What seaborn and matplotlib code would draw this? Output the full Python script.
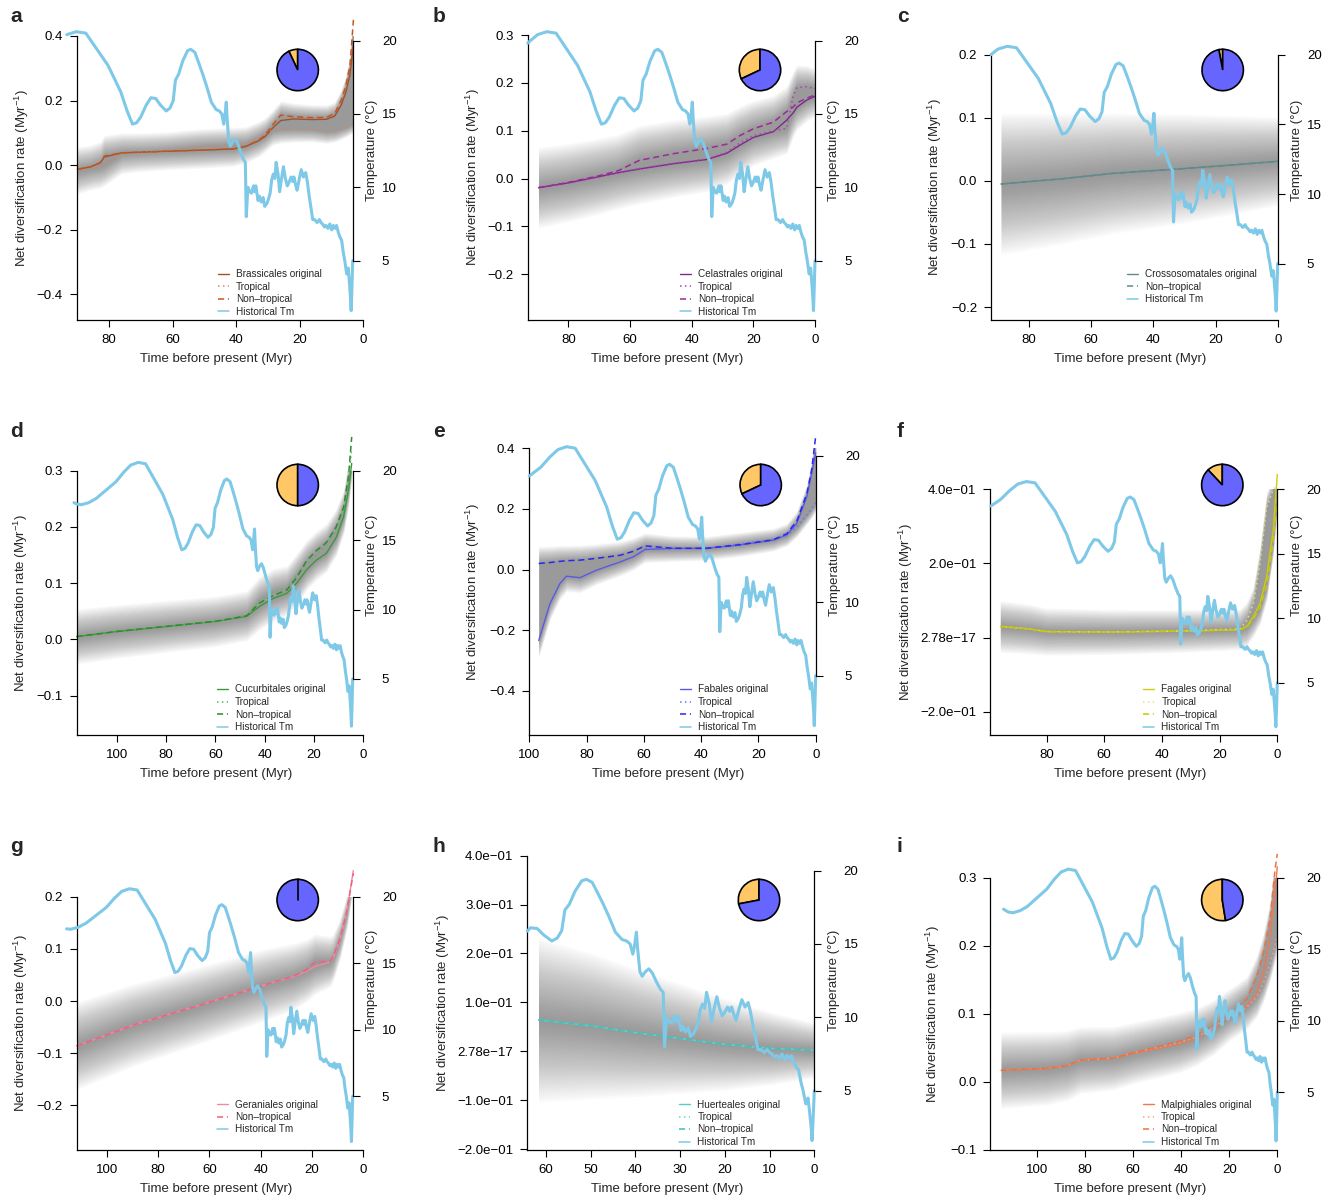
import numpy as np
import matplotlib
matplotlib.use("Agg")
import matplotlib.pyplot as plt
from matplotlib.lines import Line2D
import seaborn as sns

sns.set_theme(style="ticks")
plt.rcParams["font.family"] = ["Liberation Sans", "DejaVu Sans"]
plt.rcParams["mathtext.fontset"] = "custom"
plt.rcParams["mathtext.rm"] = "Liberation Sans"
plt.rcParams["mathtext.it"] = "Liberation Sans:italic"

W, H = 1336, 1196

# Historical temperature curve (Myr before present, deg C)
temp_time = [114, 112, 110, 107, 104, 100, 96, 92.8, 90, 87,
             84, 80.5, 77, 75, 73, 71, 69.3, 68, 66.7, 65,
             63.5, 62, 60.5, 58.7, 57.5, 56.5, 55.8, 54.8, 53.5, 52,
             51, 49.7, 48.5, 47.2, 46, 44.5, 43, 42, 41.2, 40.6,
             40.2, 39.8, 39.5, 39.0, 38.5, 37.8, 37.0, 36.2, 35.3, 34.4,
             33.8, 33.5, 33.0, 32.4, 31.9, 31.2, 30.9, 30.5, 29.8, 29.4,
             28.8, 28.2, 27.7, 27.0, 26.5, 26.0, 25.5, 25.0, 24.5, 24.1,
             23.5, 23.0, 22.4, 21.8, 21.2, 20.6, 20.1, 19.4, 18.9, 18.5,
             17.9, 17.5, 16.8, 16.2, 15.5, 14.8, 14.3, 13.7, 13.2, 12.6,
             12.0, 11.2, 10.5, 10.0, 9.5, 8.9, 8.4, 7.8, 7.2, 6.6,
             6.1, 5.5, 5.1, 4.5, 4.0, 3.5, 3.0, 2.5, 1.9, 1.4,
             1.0, 0.7, 0.5, 0.3, 0.0]
temp_value = [17.8, 17.6, 17.55, 17.7, 18.0, 18.6, 19.2, 19.9, 20.4, 20.6,
              20.5, 19.4, 18.3, 17.4, 16.5, 15.2, 14.3, 14.4, 14.8, 15.6,
              16.1, 16.05, 15.6, 15.2, 15.4, 15.9, 17.3, 17.7, 18.6, 19.3,
              19.4, 19.2, 18.5, 17.7, 16.9, 15.8, 15.3, 15.2, 15.0, 14.3,
              14.9, 15.8, 14.6, 13.1, 12.8, 13.1, 13.3, 13.0, 12.4, 11.9,
              11.7, 8.0, 10.0, 9.7, 9.6, 10.1, 9.7, 10.1, 9.1, 9.4,
              9.0, 9.3, 8.7, 8.9, 9.2, 9.6, 10.5, 10.9, 10.6, 11.7,
              10.9, 9.7, 10.6, 11.4, 10.6, 10.1, 10.3, 10.7, 10.4, 10.7,
              10.1, 9.8, 10.6, 11.2, 10.7, 11.0, 10.4, 9.4, 8.7, 7.8,
              7.8, 7.6, 7.8, 7.6, 7.5, 7.3, 7.4, 7.2, 7.5, 7.1,
              7.4, 7.2, 7.4, 6.9, 6.6, 6.4, 5.6, 5.0, 4.1, 4.5,
              3.4, 2.5, 1.6, 2.8, 5.0]

# share of tropical lineages per order (orange wedge of the pie)
tropical_share = [0.07, 0.32, 0.03, 0.5, 0.32, 0.12, 0.0, 0.28, 0.525]

nan = float("nan")

# a - Brassicales
brassicales_time = [90, 86, 82.8, 81.5, 76, 70, 62, 52, 41, 37, 33, 31, 28.5, 26, 22, 16, 11.5, 9, 7, 5.5, 4.2, 3.1]
brassicales_orig = [-0.013, -0.006, 0.007, 0.025, 0.038, 0.04, 0.043, 0.046, 0.05, 0.058, 0.075, 0.088,
                    0.115, 0.138, 0.143, 0.141, 0.142, 0.152, 0.185, 0.225, 0.28, 0.37]
brassicales_trop = [-0.02, -0.01, -0.005, 0.0, 0.035, 0.04, 0.045, 0.056, 0.063, 0.067, 0.085, 0.098,
                    0.108, 0.112, 0.113, 0.112, 0.105, 0.107, 0.113, 0.118, 0.124, 0.128]
brassicales_nontrop = [-0.013, -0.006, 0.007, 0.028, 0.038, 0.04, 0.043, 0.046, 0.05, 0.058, 0.077, 0.092,
                       0.125, 0.155, 0.15, 0.147, 0.148, 0.16, 0.2, 0.245, 0.31, 0.45]

# b - Celastrales
celastrales_time = [89.7, 80, 70, 64, 57, 46, 35, 28.6, 24.3, 20, 13.5, 9.2, 7, 5.9, 2.7, 0]
celastrales_orig = [-0.019, -0.009, 0.004, 0.012, 0.02, 0.031, 0.04, 0.053, 0.07, 0.086, 0.098, 0.122,
                    0.138, 0.149, 0.164, 0.172]
celastrales_trop = [-0.019, -0.009, 0.004, 0.013, 0.021, 0.032, 0.041, 0.055, 0.075, 0.09, 0.1, 0.105,
                    0.175, 0.19, 0.192, 0.188]
celastrales_nontrop = [-0.019, -0.008, 0.006, 0.016, 0.038, 0.052, 0.063, 0.072, 0.09, 0.104, 0.118, 0.14,
                       0.15, 0.158, 0.168, 0.175]

# c - Crossosomatales
crossosomatales_time = [89, 70, 52.8, 31.4, 15, 0]
crossosomatales_orig = [-0.005, 0.003, 0.012, 0.019, 0.025, 0.031]
crossosomatales_nontrop = [-0.005, 0.003, 0.012, 0.019, 0.025, 0.031]

# d - Cucurbitales
cucurbitales_time = [116.2, 100, 80, 60, 47.3, 42, 36.5, 31, 27, 23, 19, 15, 11, 8, 6, 4.7]
cucurbitales_orig = [0.005, 0.014, 0.023, 0.032, 0.041, 0.059, 0.073, 0.082, 0.1, 0.124, 0.141, 0.153,
                     0.181, 0.218, 0.266, 0.313]
cucurbitales_trop = [0.005, 0.014, 0.023, 0.032, 0.043, 0.07, 0.085, 0.092, 0.115, 0.135, 0.15, 0.168,
                     0.195, 0.23, 0.28, 0.34]
cucurbitales_nontrop = [0.005, 0.014, 0.023, 0.032, 0.042, 0.065, 0.078, 0.088, 0.11, 0.14, 0.158, 0.172,
                        0.2, 0.235, 0.29, 0.36]

# e - Fabales
fabales_time = [96.7, 92.8, 89.3, 87, 82.3, 76.5, 68.3, 63.7, 59.6, 49.7, 38.1, 26.4, 14.8, 10.1, 6.6, 3.1, 1.4, 0]
fabales_orig = [-0.234, -0.113, -0.046, -0.022, -0.027, -0.002, 0.025, 0.042, 0.066, 0.07, 0.07, 0.081,
                0.097, 0.114, 0.152, 0.24, 0.318, 0.385]
fabales_trop = [nan, nan, nan, nan, nan, nan, nan, nan, 0.07, 0.068, 0.07, 0.085,
                0.1, 0.112, 0.14, 0.18, 0.2, 0.22]
fabales_nontrop = [0.02, 0.023, 0.027, 0.029, 0.031, 0.037, 0.047, 0.06, 0.078, 0.07, 0.07, 0.082,
                   0.098, 0.118, 0.16, 0.25, 0.33, 0.44]

# f - Fagales
fagales_time = [96, 85.8, 80, 57, 34, 13, 10.6, 8.3, 6, 3.7, 1.4, 0]
fagales_orig = [0.03, 0.023, 0.016, 0.015, 0.017, 0.021, 0.03, 0.056, 0.092, 0.164, 0.29, 0.44]
fagales_trop = [0.03, 0.023, 0.016, 0.015, 0.018, 0.023, 0.045, 0.09, 0.2, 0.35, 0.4, 0.41]
fagales_nontrop = [0.03, 0.023, 0.016, 0.015, 0.017, 0.021, 0.028, 0.05, 0.08, 0.14, 0.26, 0.38]

# g - Geraniales
geraniales_time = [111.7, 89.6, 63.6, 37.7, 27.3, 22.1, 18.8, 13, 11.7, 9.1, 6.5, 3.9]
geraniales_orig = [-0.086, -0.046, -0.008, 0.032, 0.046, 0.057, 0.066, 0.075, 0.082, 0.117, 0.168, 0.25]
geraniales_nontrop = [-0.086, -0.046, -0.008, 0.032, 0.047, 0.06, 0.075, 0.076, 0.085, 0.12, 0.17, 0.245]

# h - Huerteales
huerteales_time = [61.7, 50, 40, 30, 20, 10, 0]
huerteales_orig = [0.064, 0.052, 0.038, 0.026, 0.014, 0.006, 0.002]
huerteales_trop = [0.064, 0.052, 0.038, 0.026, 0.014, 0.006, 0.002]
huerteales_nontrop = [0.064, 0.052, 0.038, 0.026, 0.014, 0.006, 0.002]

# i - Malpighiales
malpighiales_time = [115, 95.8, 87.5, 82, 68.1, 59.8, 40.4, 33.5, 26.6, 19.7, 12.7, 8.6, 5.8, 3, 1, 0]
malpighiales_orig = [0.017, 0.02, 0.024, 0.032, 0.035, 0.042, 0.056, 0.064, 0.077, 0.096, 0.111, 0.13,
                     0.16, 0.213, 0.277, 0.316]
malpighiales_trop = [0.017, 0.02, 0.024, 0.032, 0.035, 0.043, 0.058, 0.066, 0.08, 0.097, 0.11, 0.125,
                     0.145, 0.174, 0.2, 0.218]
malpighiales_nontrop = [0.017, 0.02, 0.024, 0.032, 0.035, 0.043, 0.06, 0.069, 0.083, 0.102, 0.122, 0.155,
                        0.19, 0.24, 0.31, 0.335]

ticks_80 = [80, 60, 40, 20, 0]
ticks_100 = [100, 80, 60, 40, 20, 0]
sci_f_ticks = [-0.2, 0.0, 0.2, 0.4]
sci_f_labels = ["\u22122.0e\u221201", "2.78e\u221217", "2.0e\u221201", "4.0e\u221201"]
sci_h_ticks = [-0.2, -0.1, 0.0, 0.1, 0.2, 0.3, 0.4]
sci_h_labels = ["\u22122.0e\u221201", "\u22121.0e\u221201", "2.78e\u221217", "1.0e\u221201",
                "2.0e\u221201", "3.0e\u221201", "4.0e\u221201"]


def dec_labels(vals):
    return [f"{v:.1f}".replace("-", "\u2212") for v in vals]


panels = [
    dict(letter="a", name="Brassicales", t=brassicales_time, orig=brassicales_orig, trop=brassicales_trop,
         nontrop=brassicales_nontrop, c=("#A0522D", "#CD8A68", "#C8551E"),
         box=(76.7, 36, 363.3, 320), ylim=(-0.48, 0.4), xl=90.2, xt=ticks_80,
         yt=[-0.4, -0.2, 0.0, 0.2, 0.4], shift=3.33, tstart=90, band=(0.05, 0.02),
         col=0, row=0, leg_x=218, pie_x=297.7, ylab=55),
    dict(letter="b", name="Celastrales", t=celastrales_time, orig=celastrales_orig, trop=celastrales_trop,
         nontrop=celastrales_nontrop, c=("#7D2A8A", "#B040B8", "#9A2A9A"),
         box=(527.7, 35, 815, 320), ylim=(-0.2955, 0.3), xl=93.2, xt=ticks_80,
         yt=[-0.2, -0.1, 0.0, 0.1, 0.2, 0.3], shift=0, tstart=93.2, band=(0.06, 0.03),
         col=1, row=0, leg_x=680, pie_x=760, ylab=55),
    dict(letter="c", name="Crossosomatales", t=crossosomatales_time, orig=crossosomatales_orig, trop=None,
         nontrop=crossosomatales_nontrop, c=("#5E8B8B", None, "#5E8B8B"),
         box=(991, 54.7, 1277.7, 320), ylim=(-0.2206, 0.2), xl=92.2, xt=ticks_80,
         yt=[-0.2, -0.1, 0.0, 0.1, 0.2], shift=0, tstart=92.2, band=(0.08, 0.05),
         col=2, row=0, leg_x=1126.7, pie_x=1222.7, ylab=56),
    dict(letter="d", name="Cucurbitales", t=cucurbitales_time, orig=cucurbitales_orig, trop=cucurbitales_trop,
         nontrop=cucurbitales_nontrop, c=("#3A9A3A", "#5CB85C", "#2E8B2E"),
         box=(76.7, 470.7, 363.3, 735), ylim=(-0.170, 0.3), xl=116.2, xt=ticks_100,
         yt=[-0.1, 0.0, 0.1, 0.2, 0.3], shift=4.3, tstart=113, band=(0.035, 0.02),
         col=0, row=1, leg_x=216.7, pie_x=297.7, ylab=56),
    dict(letter="e", name="Fabales", t=fabales_time, orig=fabales_orig, trop=fabales_trop,
         nontrop=fabales_nontrop, c=("#5A5AE6", "#7070FF", "#2828F0"),
         box=(529, 448.3, 815.7, 735), ylim=(-0.546, 0.4), xl=100.1, xt=ticks_100,
         yt=[-0.4, -0.2, 0.0, 0.2, 0.4], shift=0, tstart=100, band=(0.04, 0.02),
         col=1, row=1, leg_x=680, pie_x=760.7, ylab=56),
    dict(letter="f", name="Fagales", t=fagales_time, orig=fagales_orig, trop=fagales_trop,
         nontrop=fagales_nontrop, c=("#CCCC10", "#E0E070", "#C8C800"),
         box=(990.3, 489.3, 1277.3, 735), ylim=(-0.263, 0.4), xl=99.5, xt=ticks_80,
         yt=sci_f_ticks, ytl=sci_f_labels, shift=0, tstart=99.3, band=(0.05, 0.025),
         col=2, row=1, leg_x=1143.3, pie_x=1222.3, ylab=84),
    dict(letter="g", name="Geraniales", t=geraniales_time, orig=geraniales_orig, trop=None,
         nontrop=geraniales_nontrop, c=("#F08AA0", None, "#F06080"),
         box=(76.7, 896.7, 363.3, 1150), ylim=(-0.2857, 0.2), xl=111.7, xt=ticks_100,
         yt=[-0.2, -0.1, 0.0, 0.1, 0.2], shift=4.13, tstart=111.5, band=(0.06, 0.02),
         col=0, row=2, leg_x=216.7, pie_x=297.7, ylab=56),
    dict(letter="h", name="Huerteales", t=huerteales_time, orig=huerteales_orig, trop=huerteales_trop,
         nontrop=huerteales_nontrop, c=("#50D0C8", "#60D8D0", "#40C0B8"),
         box=(527.3, 855.7, 814.3, 1150), ylim=(-0.202, 0.4), xl=64.2, xt=[60, 50, 40, 30, 20, 10, 0],
         yt=sci_h_ticks, ytl=sci_h_labels, shift=0, tstart=64.2, band=(0.12, 0.04),
         col=1, row=2, leg_x=679.3, pie_x=759, ylab=84),
    dict(letter="i", name="Malpighiales", t=malpighiales_time, orig=malpighiales_orig, trop=malpighiales_trop,
         nontrop=malpighiales_nontrop, c=("#F07850", "#F5A080", "#F07040"),
         box=(990.3, 877.7, 1277.3, 1150), ylim=(-0.1, 0.3), xl=119.5, xt=ticks_100,
         yt=[-0.1, 0.0, 0.1, 0.2, 0.3], shift=0, tstart=114, band=(0.04, 0.015),
         col=2, row=2, leg_x=1142.7, pie_x=1222.3, ylab=57),
]

TEMP_COLOR = "#7EC8E8"
ORANGE = "#FFC766"
BLUE = "#6666FF"
letter_x = [10, 433, 897]
DOT = (0, (1, 2.2))
DASH = (0, (4, 2.5))
FS = 9.5

fig = plt.figure(figsize=(W / 100, H / 100), dpi=100)

for k, p in enumerate(panels):
    L, T, R, B = p["box"]
    row = p["row"]
    ax = fig.add_axes([L / W, 1 - B / H, (R - L) / W, (B - T) / H])
    ax.set_facecolor("none")
    t = np.array(p["t"], dtype=float)

    # grey density band around the rate curves, soft edges from stacked layers
    series = [np.array(p["orig"], dtype=float), np.array(p["nontrop"], dtype=float)]
    if p["trop"] is not None:
        series.append(np.array(p["trop"], dtype=float))
    stack = np.vstack(series)
    lo = np.nanmin(stack, axis=0)
    hi = np.nanmax(stack, axis=0)
    spread = np.linspace(p["band"][0], p["band"][1], len(t))
    for j in range(1, 31):
        f = 1.4 * j / 30
        ax.fill_between(t, lo - spread * f, hi + spread * f, color="0.3", alpha=0.022, lw=0)

    c_orig, c_trop, c_non = p["c"]
    sns.lineplot(x=t, y=p["orig"], ax=ax, color=c_orig, lw=1.0, estimator=None, sort=False, clip_on=False)
    if p["trop"] is not None:
        tr = np.array(p["trop"], dtype=float)
        ok = ~np.isnan(tr)
        sns.lineplot(x=t[ok], y=tr[ok], ax=ax, color=c_trop, lw=1.1, linestyle=DOT,
                     estimator=None, sort=False, clip_on=False)
    sns.lineplot(x=t, y=p["nontrop"], ax=ax, color=c_non, lw=1.1, linestyle=DASH,
                 estimator=None, sort=False, clip_on=False)

    ax.set_xlim(p["xl"], 0)
    ax.set_ylim(*p["ylim"])
    ax.set_xticks(p["xt"])
    ax.set_xticklabels([str(v) for v in p["xt"]])
    ax.set_yticks(p["yt"])
    ax.set_yticklabels(p.get("ytl", dec_labels(p["yt"])))
    ax.set_xlabel("")
    ax.set_ylabel("")
    for s in ["top", "right"]:
        ax.spines[s].set_visible(False)
    for s in ["left", "bottom"]:
        ax.spines[s].set_linewidth(0.9)
        ax.spines[s].set_color("black")
    ax.tick_params(axis="both", direction="out", length=5, width=0.8, labelsize=FS, colors="black")
    ax.tick_params(axis="y", pad=5)
    ax.tick_params(axis="x", pad=5)

    wpx = R - L
    hpx = B - T
    ax.text(0.5 - 4 / wpx, -39 / hpx, "Time before present (Myr)", transform=ax.transAxes,
            ha="center", va="center", fontsize=FS)
    ax.text(-p["ylab"] / wpx, 0.5, "Net diversification rate (Myr$^{\u22121}$)", transform=ax.transAxes,
            rotation=90, ha="center", va="center", fontsize=FS)

    # temperature on its own scale
    p20 = 40.5 + 415 * row
    p5 = 260.7 + 415 * row
    ppc = (p5 - p20) / 15
    ax2 = ax.twinx()
    ax2.set_ylim(5 - (B - p5) / ppc, 20 + (p20 - T) / ppc)
    tt = np.array(temp_time)
    tv = np.array(temp_value)
    keep = tt <= p["tstart"]
    t_show = np.concatenate([[p["tstart"]], tt[keep]])
    v_show = np.concatenate([[np.interp(p["tstart"], tt[::-1], tv[::-1])], tv[keep]])
    sns.lineplot(x=t_show + p["shift"], y=v_show, ax=ax2, color=TEMP_COLOR, lw=2.2,
                 estimator=None, sort=False, clip_on=False)
    ax2.set_xlim(p["xl"], 0)
    ax2.set_ylabel("")
    for s in ["top", "left", "bottom"]:
        ax2.spines[s].set_visible(False)
    ax2.spines["right"].set_position(("data", p["shift"]))
    ax2.spines["right"].set_bounds(5, 20)
    ax2.spines["right"].set_linewidth(0.9)
    ax2.spines["right"].set_color("black")
    ax2.set_yticks([5, 10, 15, 20])
    ax2.set_yticklabels(["5", "10", "15", "20"])
    ax2.tick_params(axis="y", direction="out", length=5, width=0.8, labelsize=FS, pad=16, colors="black")
    spine_px = R - p["shift"] * wpx / p["xl"]
    fig.text((spine_px + 19.5) / W, 1 - (p20 + p5) / 2 / H, "Temperature (\u00b0C)",
             rotation=90, ha="center", va="center", fontsize=FS)

    # legend
    handles = [Line2D([], [], color=c_orig, lw=1.0)]
    labels = [p["name"] + " original"]
    if p["trop"] is not None:
        handles.append(Line2D([], [], color=c_trop, lw=1.1, linestyle=DOT))
        labels.append("Tropical")
    handles.append(Line2D([], [], color=c_non, lw=1.1, linestyle=DASH))
    labels.append("Non\u2013tropical")
    handles.append(Line2D([], [], color=TEMP_COLOR, lw=1.1))
    labels.append("Historical Tm")
    fig.legend(handles, labels, loc="upper left",
               bbox_to_anchor=(p["leg_x"] / W, 1 - (269.5 + 415 * row) / H),
               bbox_transform=fig.transFigure, frameon=False, fontsize=7.2,
               handlelength=1.1, handletextpad=0.7, labelspacing=0.25, borderpad=0, borderaxespad=0)

    # pie of tropical vs non-tropical share
    r = 20.7
    cx, cy = p["pie_x"], 70 + 415 * row
    hb = 1.25 * r
    axp = fig.add_axes([(cx - hb) / W, 1 - (cy + hb) / H, 2 * hb / W, 2 * hb / H])
    share = tropical_share[k]
    axp.pie([share, 1 - share], colors=[ORANGE, BLUE], startangle=90, counterclock=True,
            wedgeprops=dict(edgecolor="black", linewidth=1.2))
    if share == 0:
        axp.plot([0, 0], [0, 1], color="black", lw=1.2)
    axp.set_aspect("equal")

    fig.text(letter_x[p["col"]] / W, 1 - (7 + 415 * row) / H, p["letter"], fontsize=15,
             fontweight="bold", ha="left", va="top")

fig.savefig("out.png", dpi=100)
